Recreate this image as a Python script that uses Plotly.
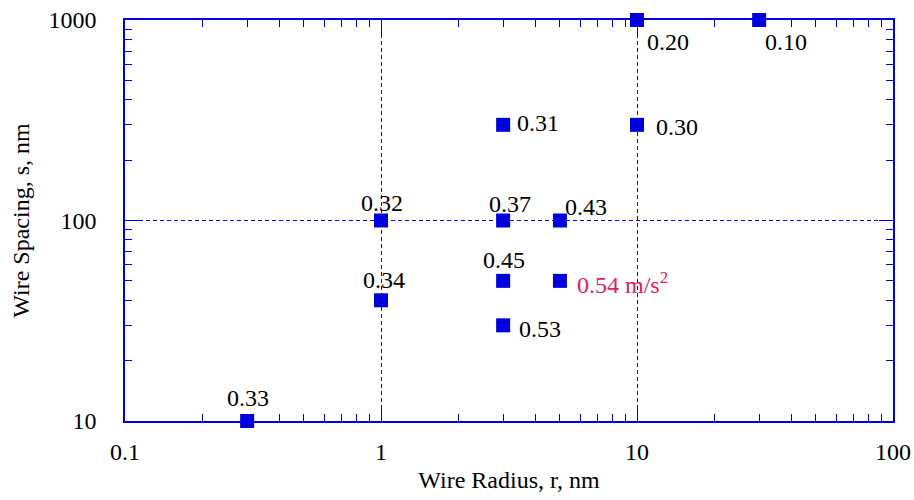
import numpy as np
import plotly.graph_objects as go

# Data
radius = [0.3, 1, 1, 3, 3, 3, 3, 5, 5, 10, 10, 30]
spacing = [10, 100, 40, 300, 100, 50, 30, 100, 50, 1000, 300, 1000]
labels = ["0.33", "0.32", "0.34", "0.31", "0.37", "0.45", "0.53", "0.43",
          "0.54 m/s<sup>2</sup>", "0.20", "0.30", "0.10"]
x_ticks = [0.1, 1, 10, 100]
x_ticktext = ["0.1", "1", "10", "100"]
y_ticks = [10, 100, 1000]
y_ticktext = ["10", "100", "1000"]

# Styles: label placement (anchor, xshift px, yshift px) and colours
label_style = [
    ("center", 1, 23), ("center", 1, 18), ("center", 3, 20),
    ("left", 12, 2), ("center", 7, 17), ("center", 1, 21),
    ("left", 14, -4), ("left", 3, 14), ("left", 15, -2),
    ("left", 8, -22), ("left", 17, -2), ("left", 4, -22),
]
label_colors = ["black"] * 8 + ["#e0205e"] + ["black"] * 3

BLUE = "#0000dd"
GRID = "#0000ff"
FONT = "'Liberation Serif', 'Times New Roman', Times, serif"

fig = go.Figure()
fig.add_trace(go.Scatter(
    x=radius, y=spacing, mode="markers",
    marker=dict(symbol="square", size=14, color=BLUE, line=dict(width=0)),
    cliponaxis=False, showlegend=False, hoverinfo="skip",
))

annotations = []
for r, s, t, (anc, dx, dy), c in zip(radius, spacing, labels, label_style, label_colors):
    annotations.append(dict(
        x=np.log10(r), y=np.log10(s), xref="x", yref="y", text=t,
        showarrow=False, xanchor=anc, yanchor="middle",
        xshift=dx, yshift=dy, font=dict(family=FONT, size=24, color=c),
    ))

axis_common = dict(
    type="log", showline=True, linecolor=BLUE, linewidth=1.5, mirror="ticks",
    ticks="inside", ticklen=14, tickcolor=BLUE, tickwidth=1,
    showgrid=True, gridcolor=GRID, gridwidth=1, griddash="4px,3px",
    zeroline=False, automargin=False,
    tickfont=dict(family=FONT, size=24, color="black"),
    minor=dict(ticks="inside", ticklen=7, tickcolor=BLUE, tickwidth=1,
               dtick="D1", showgrid=False),
)

fig.update_layout(
    width=914, height=500,
    margin=dict(l=125, r=21, t=20, b=79),
    paper_bgcolor="white", plot_bgcolor="white",
    font=dict(family=FONT, size=24, color="black"),
    xaxis=dict(axis_common, range=[-1, 2], tickvals=x_ticks, ticktext=x_ticktext,
               ticklabelstandoff=8,
               title=dict(text="Wire Radius, r, nm", font=dict(family=FONT, size=24), standoff=8)),
    yaxis=dict(axis_common, range=[1, 3], tickvals=y_ticks, ticktext=y_ticktext,
               ticklabelstandoff=22,
               title=dict(text="Wire Spacing, s, nm", font=dict(family=FONT, size=24), standoff=12)),
    annotations=annotations,
)

fig.write_html("out.html")
